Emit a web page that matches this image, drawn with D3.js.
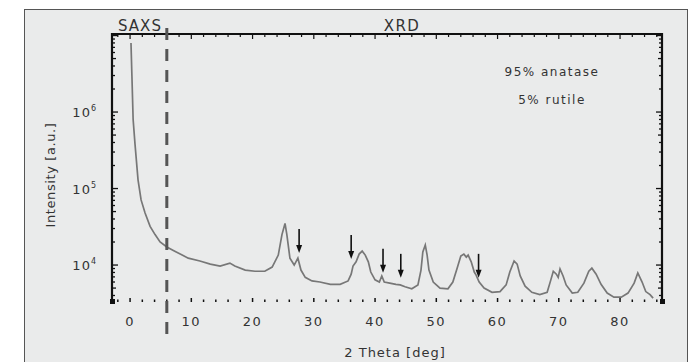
<!DOCTYPE html>
<html>
<head>
<meta charset="utf-8">
<script src="https://cdn.jsdelivr.net/npm/d3@7/dist/d3.min.js"></script>
<style>
  html, body { margin: 0; padding: 0; background: #ffffff; }
  svg { display: block; }
  text { font-family: "DejaVu Sans", "Open Sans", sans-serif; fill: #333; }
</style>
</head>
<body>
<div id="chart"></div>
<script>
// SAXS / XRD pattern of TiO2 (95% anatase, 5% rutile)
const W = 697, H = 362;

// 2 theta [deg] and intensity [a.u.]
const twoTheta = [
  0.15, 0.3, 0.5, 0.82, 1.3, 1.8, 2.45, 3.27, 4.08, 4.9, 6.0, 7.3, 9.5, 11.4, 13.1, 14.7,
  16.3, 17.1, 18.8, 20.4, 22.0, 23.2, 24.2, 24.8, 25.3, 25.6, 26.1, 26.8, 27.4, 27.9, 28.6,
  29.7, 31.0, 32.7, 34.3, 35.6, 36.1, 36.4, 36.9, 37.4, 37.9, 38.4, 38.9, 39.3, 40.0, 40.7,
  41.1, 41.5, 42.4, 43.4, 44.1, 44.9, 46.0, 47.0, 47.5, 47.8, 48.2, 48.5, 48.8, 49.5, 50.6,
  51.9, 52.7, 53.4, 54.0, 54.5, 54.9, 55.2, 55.7, 56.2, 56.5, 57.0, 57.8, 59.1, 60.4, 61.4,
  62.0, 62.7, 63.2, 63.7, 64.5, 65.6, 66.9, 68.1, 68.7, 69.1, 69.6, 69.9, 70.2, 70.7, 71.2,
  72.2, 73.1, 74.1, 74.9, 75.4, 76.1, 76.9, 77.9, 79.0, 80.2, 81.3, 82.3, 82.9, 83.6, 84.2,
  84.9, 85.4
];
const intensity = [
  8.0e6, 3.0e6, 8.0e5, 3.7e5, 1.3e5, 7.1e4, 4.8e4, 3.2e4, 2.5e4, 2.0e4, 1.72e4, 1.52e4, 1.23e4, 1.13e4, 1.03e4, 9.7e3,
  1.06e4, 9.7e3, 8.6e3, 8.3e3, 8.3e3, 9.4e3, 1.35e4, 2.5e4, 3.5e4, 2.5e4, 1.23e4, 1.0e4, 1.23e4, 8.6e3, 6.9e3,
  6.2e3, 6.0e3, 5.6e3, 5.6e3, 6.2e3, 7.6e3, 9.7e3, 1.1e4, 1.39e4, 1.52e4, 1.35e4, 1.1e4, 8.1e3, 6.4e3, 6.0e3,
  7.2e3, 6.0e3, 5.8e3, 5.6e3, 5.5e3, 5.2e3, 4.9e3, 5.5e3, 8.6e3, 1.48e4, 1.83e4, 1.35e4, 8.6e3, 6.0e3, 5.0e3,
  4.9e3, 6.0e3, 9.1e3, 1.31e4, 1.39e4, 1.27e4, 1.35e4, 1.1e4, 8.1e3, 7.4e3, 6.0e3, 5.0e3, 4.4e3, 4.5e3, 5.5e3,
  8.1e3, 1.13e4, 1.03e4, 7.2e3, 5.3e3, 4.4e3, 4.1e3, 4.4e3, 6.4e3, 8.3e3, 7.6e3, 6.9e3, 8.9e3, 7.2e3, 5.5e3,
  4.3e3, 4.4e3, 5.8e3, 8.3e3, 9.1e3, 7.6e3, 5.6e3, 4.3e3, 3.8e3, 3.8e3, 4.3e3, 5.8e3, 7.9e3, 6.0e3, 4.5e3,
  4.1e3, 3.7e3
];

// rutile reflections marked with arrows (arrow tip position)
const rutileTheta = [27.6, 36.1, 41.3, 44.2, 56.9];
const rutileTip   = [1.44e4, 1.2e4, 7.9e3, 6.8e3, 6.8e3];

const xTickLabels = [0, 10, 20, 30, 40, 50, 60, 70, 80];
const yTickLabels = [1e4, 1e5, 1e6];
const yTickExp    = ['4', '5', '6'];
const saxsLimit   = 6; // SAXS / XRD border in 2 theta

const M = { left: 112, right: 662, top: 34, bottom: 301 };

const svg = d3.select('#chart').append('svg')
  .attr('width', W)
  .attr('height', H);

// grey panel
svg.append('rect')
  .attr('x', 24.5).attr('y', 9.5)
  .attr('width', 663).attr('height', 360)
  .attr('fill', '#eaebeb')
  .attr('stroke', '#555')
  .attr('stroke-width', 1);

const x = d3.scaleLinear().domain([-2.95, 86.85]).range([M.left, M.right]);
const y = d3.scaleLog().domain([Math.pow(10, 3.53), Math.pow(10, 7.02)]).range([M.bottom, M.top]);

// data curve
const pts = twoTheta.map(function(t, i) { return [t, intensity[i]]; });
svg.append('path')
  .datum(pts)
  .attr('d', d3.line().x(function(d) { return x(d[0]); }).y(function(d) { return y(Math.min(d[1], y.domain()[1])); }))
  .attr('fill', 'none')
  .attr('stroke', '#777')
  .attr('stroke-width', 1.7);

// axes
const ax = svg.append('g').attr('stroke', '#111');
const minorX = d3.range(-2, 87, 2);

// top axis: solid line, ticks pointing down
ax.append('line')
  .attr('x1', M.left).attr('x2', M.right)
  .attr('y1', M.top).attr('y2', M.top)
  .attr('stroke-width', 2);
minorX.forEach(function(v) {
  ax.append('line')
    .attr('x1', x(v)).attr('x2', x(v))
    .attr('y1', M.top).attr('y2', M.top + (v % 10 === 0 ? 5 : 3))
    .attr('stroke-width', 1.2);
});

// bottom axis: only short ticks
minorX.forEach(function(v) {
  ax.append('line')
    .attr('x1', x(v)).attr('x2', x(v))
    .attr('y1', M.bottom - (v % 10 === 0 ? 3 : 1.5)).attr('y2', M.bottom + 1)
    .attr('stroke-width', 1.5);
});

// left and right log axes
[M.left, M.right].forEach(function(px, side) {
  ax.append('line')
    .attr('x1', px).attr('x2', px)
    .attr('y1', M.top - 1).attr('y2', M.bottom + 2)
    .attr('stroke-width', 2.2);
  const dir = side === 0 ? 1 : -1;
  y.ticks(40).forEach(function(v) {
    const m = Math.round(v / Math.pow(10, Math.floor(Math.log10(v) + 1e-9)));
    const len = m === 1 ? 6 : (m === 5 ? 4 : 3);
    ax.append('line')
      .attr('x1', px).attr('x2', px + dir * len)
      .attr('y1', y(v)).attr('y2', y(v))
      .attr('stroke-width', 1.3);
  });
  ax.append('rect')
    .attr('x', px - 2).attr('y', M.bottom - 2)
    .attr('width', 5).attr('height', 5)
    .attr('fill', '#111').attr('stroke', 'none');
});

// x tick labels
svg.append('g').selectAll('text')
  .data(xTickLabels)
  .join('text')
  .attr('x', function(d) { return x(d); })
  .attr('y', 326)
  .attr('text-anchor', 'middle')
  .attr('font-size', 13)
  .attr('letter-spacing', 1.5)
  .text(function(d) { return d; });

// y tick labels
const yl = svg.append('g').selectAll('text')
  .data(yTickLabels)
  .join('text')
  .attr('x', 97)
  .attr('y', function(d) { return y(d) + 5; })
  .attr('text-anchor', 'end')
  .attr('font-size', 13)
  .attr('letter-spacing', 1);
yl.append('tspan').text('10');
yl.append('tspan')
  .attr('dy', -6)
  .attr('font-size', 8)
  .text(function(d, i) { return yTickExp[i]; });

// SAXS / XRD divider
svg.append('line')
  .attr('x1', x(saxsLimit)).attr('x2', x(saxsLimit))
  .attr('y1', 28).attr('y2', 336)
  .attr('stroke', '#555')
  .attr('stroke-width', 3)
  .attr('stroke-dasharray', '12,9');

// rutile arrows
const arr = svg.append('g');
rutileTheta.forEach(function(t, i) {
  const ax0 = x(t), ay = y(rutileTip[i]);
  arr.append('line')
    .attr('x1', ax0).attr('x2', ax0)
    .attr('y1', ay - 24).attr('y2', ay - 4)
    .attr('stroke', '#111').attr('stroke-width', 1.6);
  arr.append('path')
    .attr('d', 'M' + (ax0 - 3) + ',' + (ay - 8) + 'L' + (ax0 + 3) + ',' + (ay - 8) + 'L' + ax0 + ',' + ay + 'Z')
    .attr('fill', '#111');
});

// labels
svg.append('text').attr('x', 140).attr('y', 31).attr('text-anchor', 'middle')
  .attr('font-size', 15).attr('letter-spacing', 1).text('SAXS');
svg.append('text').attr('x', 402).attr('y', 31).attr('text-anchor', 'middle')
  .attr('font-size', 15).attr('letter-spacing', 1.5).text('XRD');
svg.append('text').attr('x', 552).attr('y', 76).attr('text-anchor', 'middle')
  .attr('font-size', 12).attr('letter-spacing', 1.5).text('95% anatase');
svg.append('text').attr('x', 552).attr('y', 104).attr('text-anchor', 'middle')
  .attr('font-size', 12).attr('letter-spacing', 1.5).text('5%  rutile');
svg.append('text').attr('x', 395).attr('y', 357).attr('text-anchor', 'middle')
  .attr('font-size', 13).attr('letter-spacing', 1).text('2 Theta [deg]');
svg.append('text')
  .attr('transform', 'translate(55,175) rotate(-90)')
  .attr('text-anchor', 'middle')
  .attr('font-size', 13)
  .attr('letter-spacing', 0.6)
  .text('Intensity [a.u.]');
</script>
</body>
</html>
